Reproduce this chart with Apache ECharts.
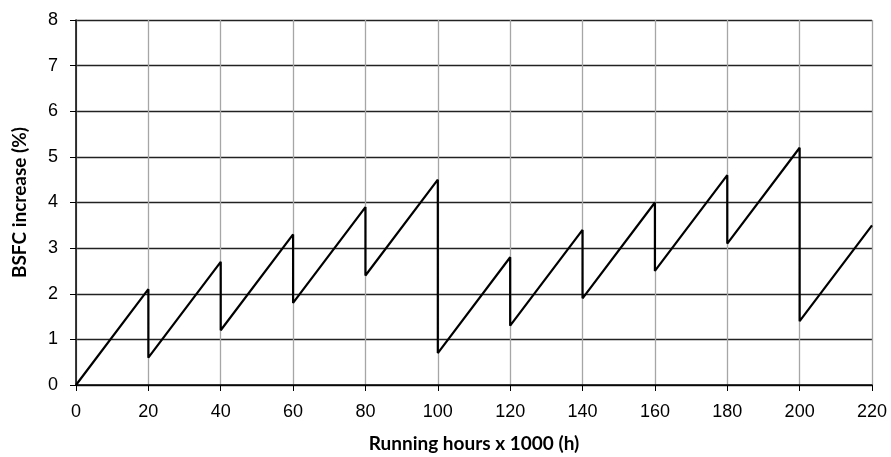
<!DOCTYPE html>
<html>
<head>
<meta charset="utf-8">
<script src="https://cdn.jsdelivr.net/npm/echarts@6/dist/echarts.min.js"></script>
<style>
  html, body { margin: 0; padding: 0; background: #fff; }
  #chart { width: 891px; height: 457px; }
</style>
</head>
<body>
<div id="chart"></div>
<script>
// Maintenance points (thousand running hours) and BSFC increase just before / after each overhaul
const hours      = [0, 20, 40, 60, 80, 100, 120, 140, 160, 180, 200, 220];
const peakBefore = [0, 2.1, 2.7, 3.3, 3.9, 4.5, 2.8, 3.4, 4.0, 4.6, 5.2, 3.5];
const afterReset = [0, 0.6, 1.2, 1.8, 2.4, 0.7, 1.3, 1.9, 2.5, 3.1, 1.4, 3.5];
const xTicks = [0, 20, 40, 60, 80, 100, 120, 140, 160, 180, 200, 220];
const yTicks = [0, 1, 2, 3, 4, 5, 6, 7, 8];

// Sawtooth: rise to the peak, then drop vertically at the same hour
const points = [];
hours.forEach((h, i) => {
  points.push([h, peakBefore[i]]);
  if (afterReset[i] !== peakBefore[i]) points.push([h, afterReset[i]]);
});

const tickFont = { fontFamily: 'Liberation Sans', fontSize: 18, color: '#000' };
const titleFont = { fontFamily: 'Lato', fontWeight: 'bold', fontSize: 19, color: '#000' };

const chart = echarts.init(document.getElementById('chart'), null, { renderer: 'canvas' });
chart.setOption({
  animation: false,
  grid: { left: 76, right: 19, top: 20, bottom: 72, containLabel: false, outerBoundsMode: 'none' },
  xAxis: {
    type: 'value',
    min: xTicks[0], max: xTicks[xTicks.length - 1], interval: 20,
    name: 'Running hours x 1000 (h)',
    nameLocation: 'middle', nameGap: 49,
    nameTextStyle: titleFont,
    axisLine: { show: true, lineStyle: { color: '#000', width: 1.5 } },
    axisTick: { show: true, length: 6, lineStyle: { color: '#000', width: 1 } },
    axisLabel: Object.assign({ margin: 18 }, tickFont),
    splitLine: { show: true, lineStyle: { color: '#a6a6a6', width: 1.3 } }
  },
  yAxis: {
    type: 'value',
    min: yTicks[0], max: yTicks[yTicks.length - 1], interval: 1,
    name: 'BSFC increase (%)',
    nameLocation: 'middle', nameGap: 47,
    nameTextStyle: titleFont,
    axisLine: { show: true, lineStyle: { color: '#000', width: 1.5 } },
    axisTick: { show: true, length: 6, lineStyle: { color: '#000', width: 1 } },
    axisLabel: Object.assign({ margin: 18 }, tickFont),
    splitLine: { show: true, lineStyle: { color: '#222', width: 1.3 } }
  },
  series: [{
    type: 'line',
    data: points,
    showSymbol: false,
    symbol: 'none',
    lineStyle: { color: '#000', width: 2.2 },
    z: 5
  }]
});
</script>
</body>
</html>
